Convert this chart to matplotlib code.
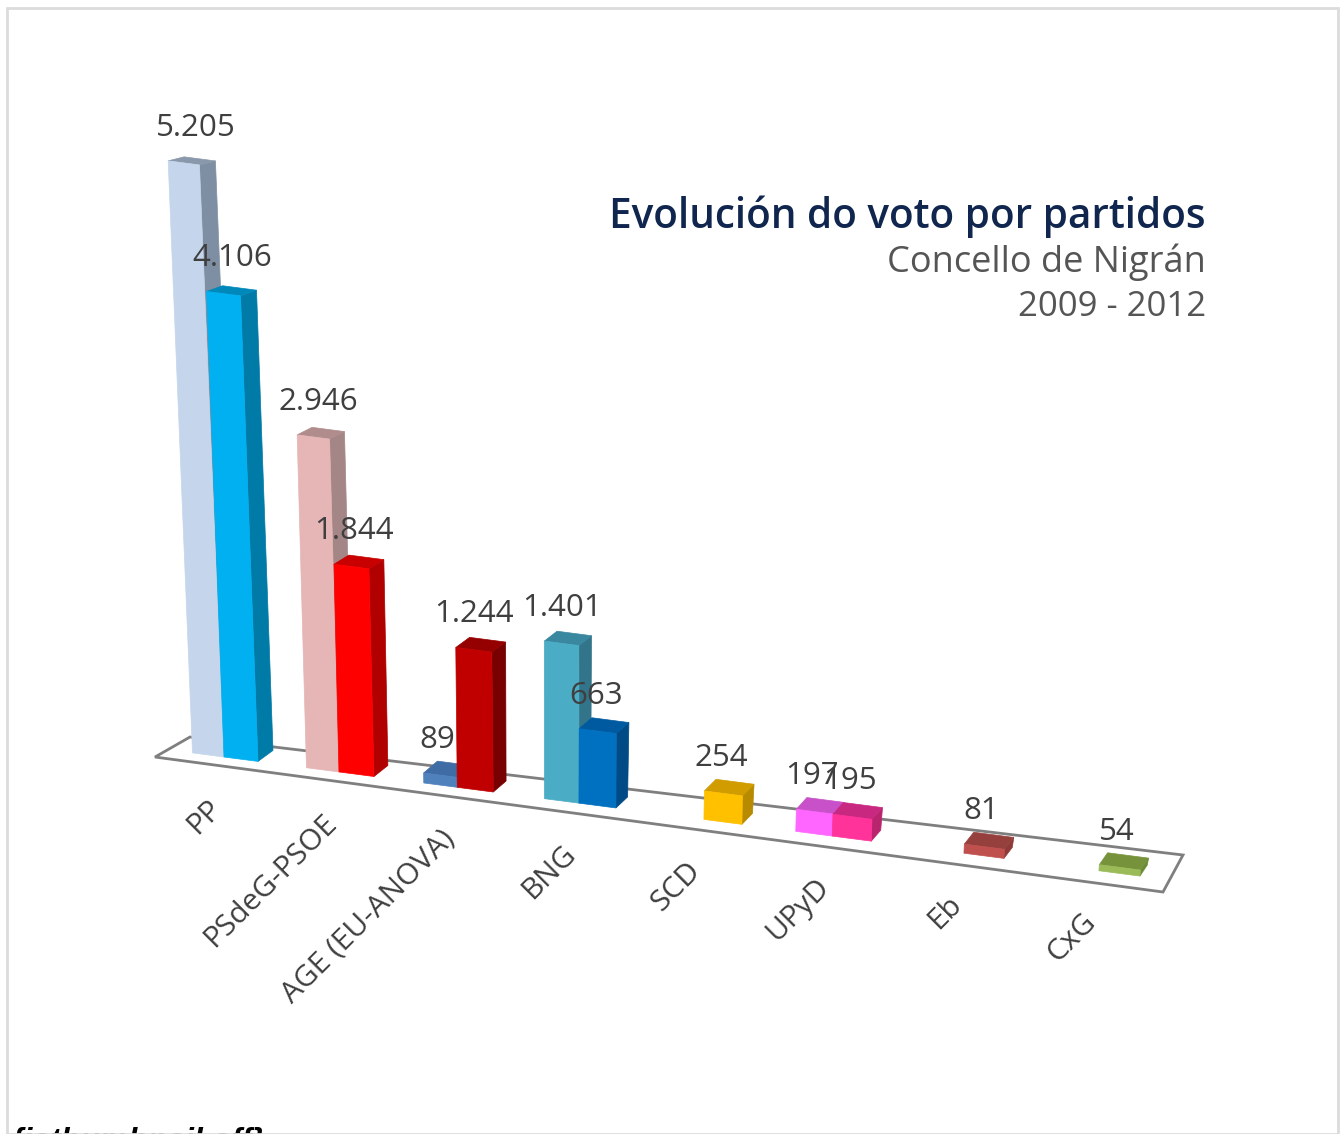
import matplotlib
matplotlib.use("Agg")
import matplotlib.pyplot as plt
from matplotlib.patches import Polygon, Rectangle

categories = ["PP", "PSdeG-PSOE", "AGE (EU-ANOVA)", "BNG", "SCD", "UPyD", "Eb", "CxG"]
votes_2009 = [5205, 2946, 89, 1401, None, 197, None, None]
votes_2012 = [4106, 1844, 1244, 663, 254, 195, 81, 54]

title = "Evolución do voto por partidos"
subtitle = "Concello de Nigrán"
period = "2009 - 2012"
stray = "{jathumbnail off}"

# (front, side, top)
colors_2009 = [("#C5D5EC", "#7F8FA3", "#8A98AB"), ("#E6B5B5", "#A58686", "#B08C8C"),
               ("#4F81BD", "#3A6090", "#3F6CA5"), ("#4BACC6", "#32758A", "#3A87A0"),
               None, ("#FF66FF", "#B848B8", "#C850C8"), None, None]
colors_2012 = [("#00B0F0", "#007AA6", "#0088BA"), ("#FF0000", "#B00000", "#C80000"),
               ("#C00000", "#780000", "#950000"), ("#0070C0", "#004A85", "#005AA0"),
               ("#FFC000", "#B78A00", "#D09C00"), ("#FF3399", "#B8246E", "#C82880"),
               ("#C0504D", "#8E3A38", "#96403D"), ("#9BBB59", "#6A8A35", "#76933C")]

W, H = 1341, 1135
fig = plt.figure(figsize=(W / 100, H / 100), dpi=100, facecolor="white")
ax = fig.add_axes([0, 0, 1, 1])
ax.set_xlim(0, W)
ax.set_ylim(H, 0)
ax.axis("off")
FONT = "Open Sans"


def cat_x(i):
    return 224 + 113.3 * i + 1.67 * i * i


def floor_y(x):
    return 757 + 0.13 * (x - 224)


def bar_height(v):
    return 0.112 * v * (1 + 3e-6 * v)


def lean(x, h):
    return (x - 550) * 1.15e-4 * h


def draw_bar(i, series, v, cols):
    w = (34 + i) if series == 1 else (31.5 + i)
    x0 = cat_x(i) - (w if series == 0 else 0)
    x1 = x0 + w
    y0, y1 = floor_y(x0), floor_y(x1)
    h = bar_height(v)
    dx = 15 - 1.1 * i
    dy_b = -11
    dy_t = -12 + h * 0.0135
    tl = (x0 + lean(x0, h), y0 - h)
    tr = (x1 + lean(x1, h) - h * 0.004, y1 - h)
    bl, br = (x0, y0), (x1, y1)
    br2 = (x1 + dx, y1 + dy_b)
    tr2 = (tr[0] + dx + 1, tr[1] + dy_t)
    tl2 = (tl[0] + dx + 1, tl[1] + dy_t)
    front, side, top = cols
    z = 3 + series + i * 0.01
    for pts, c in (([br, br2, tr2, tr], side), ([tl, tr, tr2, tl2], top), ([bl, br, tr, tl], front)):
        ax.add_patch(Polygon(pts, closed=True, fc=c, ec=c, lw=0.5, zorder=z))
    lx = (tl[0] + tr[0]) / 2 - 3 + h * 0.025
    ly = tl[1] - 33
    ax.text(lx, ly, f"{v:,}".replace(",", "."), ha="center", va="center",
            fontsize=22.5, family=FONT, color="#3F3F3F", zorder=10)


# floor
fl_a = (155, floor_y(155) + 9)
fl_b = (1163, 892)
fl_c = (1183, 855)
fl_d = (190, 737)
ax.add_patch(Polygon([fl_a, fl_b, fl_c, fl_d], closed=True, fc="white", ec="#7F7F7F", lw=2.0, zorder=1))

for i in range(len(categories)):
    if votes_2009[i] is not None:
        draw_bar(i, 0, votes_2009[i], colors_2009[i])
    draw_bar(i, 1, votes_2012[i], colors_2012[i])
    x = cat_x(i)
    ax.text(x - 7, floor_y(x) + 47, categories[i], rotation=45, rotation_mode="anchor",
            ha="right", va="center", fontsize=21.5, family=FONT, color="#3F3F3F", zorder=10)

ax.text(1206, 217, title, ha="right", va="center", fontsize=29.2, family=FONT, fontweight="semibold",
        color="#10264F", zorder=10)
ax.text(1206, 262, subtitle, ha="right", va="center", fontsize=26, family=FONT, color="#555555", zorder=10)
ax.text(1206, 307, period, ha="right", va="center", fontsize=25, family=FONT, color="#555555", zorder=10)

ax.text(11, 1127, stray, ha="left", va="top", fontsize=23, family="Liberation Sans",
        fontweight="bold", style="italic", color="black", zorder=10)

ax.add_patch(Rectangle((7, 8), 1331, 1126, fc="none", ec="#DCDCDC", lw=2, zorder=11))
ax.add_patch(Rectangle((0, 1134), W, 2, fc="white", ec="none", zorder=12))

fig.savefig("out.png", dpi=100, facecolor="white")
